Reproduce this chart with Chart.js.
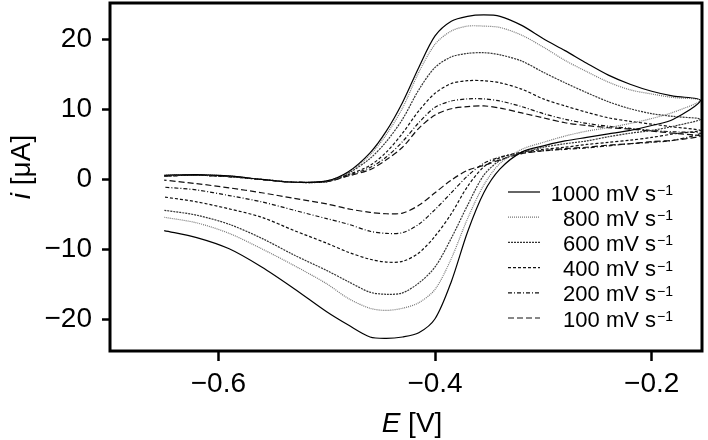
<!DOCTYPE html>
<html>
<head>
<meta charset="utf-8">
<script src="https://cdn.jsdelivr.net/npm/chart.js@4/dist/chart.umd.min.js"></script>
<style>
  body { margin: 0; background: #fff; }
  #wrap { width: 708px; height: 440px; }
</style>
</head>
<body>
<div id="wrap"><canvas id="cvChart"></canvas></div>
<script>
// potential grid of the forward (anodic) sweep, V
const potential = [-0.65, -0.62, -0.59, -0.56, -0.53, -0.50, -0.48, -0.46, -0.445, -0.43, -0.415, -0.40,
    -0.385, -0.37, -0.355, -0.34, -0.32, -0.30, -0.28, -0.26, -0.24, -0.22, -0.20, -0.18, -0.155];
// reverse sweep goes back from the vertex (vertex point not repeated)
const potentialBack = potential.slice(0, -1).reverse();

const scanRates = [1000, 800, 600, 400, 200, 100];

// current, µA
const fwd1000 = [0.6, 0.7, 0.5, 0.0, -0.4, -0.2, 1.1, 3.8, 6.9, 11.0, 16.0, 20.5, 22.6, 23.3, 23.5, 23.3, 22.0, 20.1, 18.4, 16.6, 14.9, 13.6, 12.6, 11.9, 11.3];
const rev1000 = [8.6, 7.7, 7.0, 6.5, 6.0, 5.5, 4.8, 3.9, 1.5, -1.9, -7.5, -14.6, -19.9, -21.9, -22.5, -22.7, -22.5, -20.8, -18.9, -15.6, -12.5, -9.9, -8.3, -7.3];
const fwd800 = [0.6, 0.7, 0.5, 0.0, -0.4, -0.2, 1.0, 3.5, 6.4, 10.2, 15.3, 19.3, 21.2, 21.9, 21.9, 21.7, 20.6, 18.9, 17.0, 15.4, 13.9, 12.8, 12.2, 11.7, 11.3];
const rev800 = [9.6, 8.7, 8.0, 7.4, 6.9, 6.2, 5.3, 4.3, 2.3, -0.8, -5.6, -11.3, -15.7, -17.6, -18.4, -18.7, -18.4, -17.0, -14.9, -12.3, -9.9, -7.7, -6.2, -5.4];
const fwd600 = [0.5, 0.6, 0.4, 0.0, -0.4, -0.3, 0.9, 3.0, 5.4, 8.6, 12.8, 16.0, 17.5, 18.0, 18.1, 17.8, 16.9, 15.3, 13.8, 12.4, 11.1, 10.1, 9.4, 9.0, 8.6];
const rev600 = [7.6, 7.0, 6.6, 6.1, 5.5, 5.1, 4.6, 3.8, 2.7, 0.6, -3.7, -8.4, -12.5, -14.8, -16.2, -16.4, -16.1, -14.6, -13.0, -10.8, -8.4, -6.4, -5.1, -4.4];
const fwd400 = [0.5, 0.6, 0.4, 0.0, -0.4, -0.3, 0.7, 2.0, 3.9, 6.6, 9.8, 12.3, 13.7, 14.1, 14.1, 13.8, 12.9, 11.5, 10.5, 9.6, 8.8, 8.3, 7.9, 7.5, 7.0];
const rev400 = [6.5, 6.0, 5.6, 5.3, 5.0, 4.6, 4.3, 3.9, 3.1, 1.8, -1.0, -4.9, -8.1, -10.5, -11.7, -11.8, -11.4, -10.4, -9.1, -7.3, -5.4, -4.2, -3.2, -2.5];
const fwd200 = [0.5, 0.6, 0.4, 0.0, -0.4, -0.3, 0.6, 1.7, 3.2, 5.4, 8.1, 10.3, 11.2, 11.5, 11.5, 11.2, 10.4, 9.4, 8.6, 8.0, 7.6, 7.3, 7.0, 6.8, 6.6];
const rev200 = [5.6, 5.3, 5.1, 4.8, 4.5, 4.3, 4.1, 3.8, 3.2, 2.3, 0.5, -1.9, -4.3, -6.4, -7.6, -7.7, -7.4, -6.4, -5.6, -4.4, -3.2, -2.3, -1.5, -1.1];
const fwd100 = [0.5, 0.6, 0.4, 0.0, -0.4, -0.3, 0.5, 1.4, 2.8, 4.6, 7.3, 9.2, 10.1, 10.4, 10.5, 10.2, 9.5, 8.8, 8.1, 7.7, 7.4, 7.2, 6.9, 6.6, 6.2];
const rev100 = [5.6, 5.4, 5.1, 4.9, 4.6, 4.4, 4.1, 3.7, 2.8, 2.0, 1.3, -0.1, -1.9, -3.7, -4.8, -4.9, -4.7, -4.2, -3.5, -2.7, -1.9, -1.2, -0.6, -0.1];

const xTicks = [-0.6, -0.4, -0.2];
const yTicks = [-20, -10, 0, 10, 20];

const FONT = '"Liberation Sans", Arial, sans-serif';

function loop(fwd, rev) {
    const pts = fwd.map((v, k) => ({ x: potential[k], y: v }));
    return pts.concat(rev.map((v, k) => ({ x: potentialBack[k], y: v })));
}

function minus(v, digits) {
    const s = Math.abs(v).toFixed(digits);
    return v < 0 ? "\u2212" + s : s;
}

const decor = {
    id: "decor",
    afterDraw(chart) {
        const { ctx, chartArea: a } = chart;
        ctx.save();
        // frame
        ctx.strokeStyle = "#000";
        ctx.lineWidth = 3;
        ctx.strokeRect(a.left, a.top, a.right - a.left, a.bottom - a.top);

        // axis titles (italic symbol + plain unit)
        ctx.fillStyle = "#000";
        ctx.textBaseline = "alphabetic";
        ctx.textAlign = "left";
        const drawTitle = (sym, unit, cx, cy) => {
            ctx.font = "italic 28px " + FONT;
            const w1 = ctx.measureText(sym).width;
            ctx.font = "28px " + FONT;
            const w2 = ctx.measureText(unit).width;
            let x = cx - (w1 + w2) / 2;
            ctx.font = "italic 28px " + FONT;
            ctx.fillText(sym, x, cy);
            ctx.font = "28px " + FONT;
            ctx.fillText(unit, x + w1, cy);
        };
        drawTitle("E", " [V]", (a.left + a.right) / 2 + 6, 432);
        ctx.save();
        ctx.translate(30, 167);
        ctx.rotate(-Math.PI / 2);
        drawTitle("i", " [\u03bcA]", 0, 0);
        ctx.restore();

        // legend, text right-aligned with superscript
        const right = a.right - 29;
        chart.data.datasets.forEach((ds, k) => {
            const y = a.top + 189 + k * 25.2;
            ctx.beginPath();
            ctx.setLineDash(ds.borderDash || []);
            ctx.strokeStyle = ds.borderColor;
            ctx.lineWidth = ds.borderWidth;
            ctx.moveTo(right - 165, y);
            ctx.lineTo(right - 133, y);
            ctx.stroke();
            ctx.setLineDash([]);

            ctx.font = "14px " + FONT;
            const sup = "\u22121";
            const supW = ctx.measureText(sup).width;
            ctx.textAlign = "left";
            ctx.fillText(sup, right - supW, y + 3);
            ctx.font = "22px " + FONT;
            ctx.textAlign = "right";
            ctx.fillText(ds.label, right - supW - 1, y + 8.5);
        });
        ctx.restore();
    }
};

document.addEventListener("DOMContentLoaded", function () {
    const ctx = document.getElementById("cvChart").getContext("2d");

    const series = [
        { fwd: fwd1000, rev: rev1000, color: "#000", dash: [] },
        { fwd: fwd800, rev: rev800, color: "#777", dash: [1, 1] },
        { fwd: fwd600, rev: rev600, color: "#333", dash: [2, 1] },
        { fwd: fwd400, rev: rev400, color: "#111", dash: [3, 2] },
        { fwd: fwd200, rev: rev200, color: "#111", dash: [4, 2, 1, 2] },
        { fwd: fwd100, rev: rev100, color: "#111", dash: [6, 3] },
    ];

    new Chart(ctx, {
        type: "scatter",
        data: {
            datasets: series.map((s, k) => ({
                label: scanRates[k] + " mV s",
                data: loop(s.fwd, s.rev),
                showLine: true,
                borderColor: s.color,
                borderDash: s.dash,
                borderWidth: 1.2,
                pointRadius: 0,
                tension: 0.3,
                fill: false,
            })),
        },
        options: {
            responsive: true,
            maintainAspectRatio: false,
            animation: false,
            events: [],
            layout: { padding: { top: 3, right: 6, left: 0, bottom: 0 } },
            plugins: {
                legend: { display: false },
                tooltip: { enabled: false },
            },
            scales: {
                x: {
                    type: "linear",
                    min: -0.70,
                    max: -0.1536,
                    afterFit: (s) => { s.height = 89; s.paddingLeft = 0; s.paddingRight = 0; },
                    afterBuildTicks: (s) => { s.ticks = xTicks.map((v) => ({ value: v })); },
                    border: { display: false },
                    grid: { drawOnChartArea: false, tickLength: 10, tickWidth: 2.5, tickColor: "#000" },
                    ticks: {
                        color: "#000",
                        font: { family: FONT, size: 28 },
                        padding: 6,
                        maxRotation: 0,
                        callback: (v) => minus(v, 1),
                    },
                },
                y: {
                    type: "linear",
                    min: -24.5,
                    max: 25.2,
                    afterFit: (s) => { s.width = 110; s.paddingTop = 0; s.paddingBottom = 0; },
                    afterBuildTicks: (s) => { s.ticks = yTicks.map((v) => ({ value: v })); },
                    border: { display: false },
                    grid: { drawOnChartArea: false, tickLength: 8, tickWidth: 2.5, tickColor: "#000" },
                    ticks: {
                        color: "#000",
                        font: { family: FONT, size: 28 },
                        padding: 10,
                        callback: (v) => minus(v, 0),
                    },
                },
            },
        },
        plugins: [decor],
    });
});
</script>
</body>
</html>
